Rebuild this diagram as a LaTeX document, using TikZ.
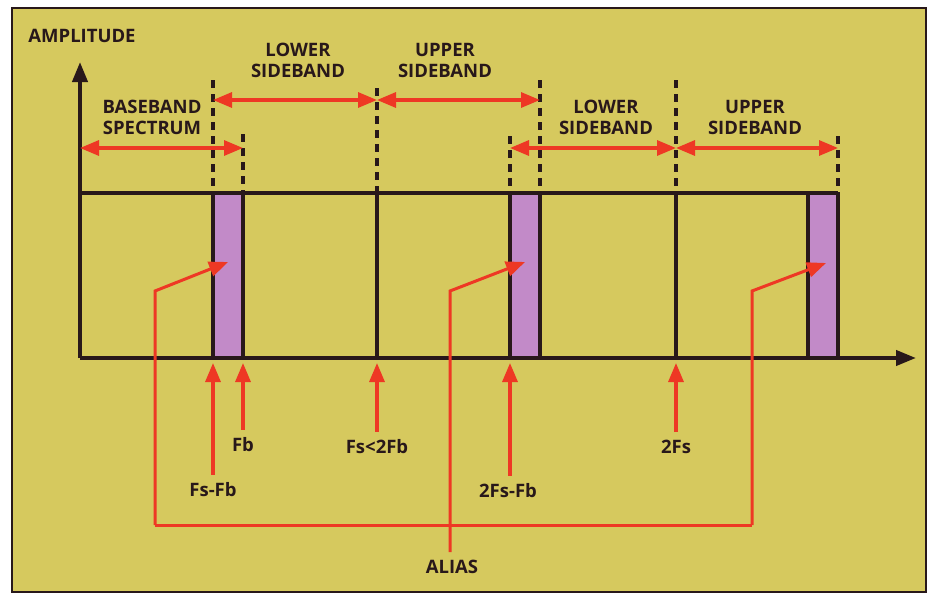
\documentclass[tikz,border=0pt]{standalone}
\usepackage{fontspec}
\setmainfont{Open Sans}
\usetikzlibrary{arrows.meta}

\definecolor{paper}{RGB}{214,201,94}
\definecolor{band}{RGB}{194,138,200}
\definecolor{alias}{RGB}{238,56,36}
\definecolor{ink}{RGB}{40,24,26}

\tikzset{
  lbl/.style={font=\bfseries\fontsize{18.5}{21}\selectfont, text=ink, align=center, inner sep=0pt},
  axis/.style={draw=ink, line width=4pt, -{Triangle[length=20pt,width=15pt]}},
  guide/.style={draw=ink, line width=3.5pt, dash pattern=on 8pt off 6pt},
  span/.style={draw=alias, line width=3.2pt, {Triangle[length=19pt,width=15pt]}-{Triangle[length=19pt,width=15pt]}},
  marker/.style={draw=alias, line width=3.2pt, -{Triangle[length=19pt,width=15pt]}},
  aliaslink/.style={draw=alias, line width=3pt, line join=miter},
}

\begin{document}
\begin{tikzpicture}[x=1pt, y=-1pt, line width=4pt]
    \useasboundingbox (0,0) rectangle (936,594);
    \fill[white] (0,0) rectangle (936,594);
    \draw[fill=paper, draw=ink, line width=1.2pt] (12,8) rectangle (926,592);

    % frequency positions on the axis
    \foreach \name/\x in {fsfb/213, fb/243, fs/377, afsfb/510, fsfbs/540, afs/676, bfsfb/808, afsfbs/838} {
      \coordinate (\name-lo) at (\x,358);
      \coordinate (\name-hi) at (\x,193);
    }
    \coordinate (origin) at (80,358);
    \coordinate (ytip) at (80,62);
    \coordinate (xtip) at (916,358);
    \coordinate (level) at (80,193);

    % sidebands
    \fill[band] (fsfb-lo) rectangle (fb-hi);
    \fill[band] (afsfb-lo) rectangle (fsfbs-hi);
    \fill[band] (bfsfb-lo) rectangle (afsfbs-hi);

    \draw[ink] (level) -- (afsfbs-hi);
    \foreach \name in {fsfb, fb, fs, afsfb, fsfbs, afs, bfsfb, afsfbs}
      \draw[ink] (\name-lo) -- (\name-hi);
    \draw[axis] (origin) -- (ytip);
    \draw[axis] (origin) -- (xtip);

    % dotted guides
    \foreach \name/\x/\t in {fsfb/213/80, fb/243/134, fs/377/88, afsfb/510/136, fsfbs/540/80, afs/676/80, afsfbs/838/136} {
      \coordinate (\name-top) at (\x,\t);
      \draw[guide] (\name-top) -- (\name-hi);
    }

    % band spans
    \draw[span] (213,100) -- (377,100);
    \draw[span] (377,100) -- (540,100);
    \draw[span] (80,148) -- (243,148);
    \draw[span] (510,148) -- (676,148);
    \draw[span] (676,148) -- (838,148);

    \node[lbl] (ampl) at (82,36) {AMPLITUDE};
    \node[lbl] (lsb1) at (298,60) {LOWER\\SIDEBAND};
    \node[lbl] (usb1) at (445,60) {UPPER\\SIDEBAND};
    \node[lbl] (base) at (152,117) {BASEBAND\\SPECTRUM};
    \node[lbl] (lsb2) at (606,117) {LOWER\\SIDEBAND};
    \node[lbl] (usb2) at (755,117) {UPPER\\SIDEBAND};

    % frequency labels
    \node[lbl] (fsfbt) at (213,490) {Fs-Fb};
    \node[lbl] (fbt) at (243,445) {Fb};
    \node[lbl] (fst) at (377,447) {Fs<2Fb};
    \node[lbl] (afsfbt) at (508,491) {2Fs-Fb};
    \node[lbl] (afst) at (676,447) {2Fs};
    \node[lbl] (ali) at (452,567) {ALIAS};

    \draw[marker, shorten <=6pt, shorten >=5pt] (fsfbt) -- (fsfb-lo);
    \draw[marker, shorten <=6pt, shorten >=5pt] (fbt) -- (fb-lo);
    \draw[marker, shorten <=6pt, shorten >=5pt] (fst) -- (fs-lo);
    \draw[marker, shorten <=6pt, shorten >=5pt] (afsfbt.north -| afsfb-lo) -- (afsfb-lo);
    \draw[marker, shorten <=6pt, shorten >=5pt] (afst) -- (afs-lo);

    % alias paths
    \coordinate (bus-l) at (155,525);
    \coordinate (bus-r) at (752,525);
    \coordinate (knee1) at (155,291);
    \coordinate (knee2) at (450,291);
    \coordinate (knee3) at (752,291);
    \coordinate (hit1) at (228,262);
    \coordinate (hit2) at (525,262);
    \coordinate (hit3) at (826,263);
    \draw[aliaslink] (bus-l) -- (bus-r);
    \draw[aliaslink, -{Triangle[length=19pt,width=15pt]}] (bus-l) -- (knee1) -- (hit1);
    \draw[aliaslink, -{Triangle[length=19pt,width=15pt]}, shorten <=6pt] (ali.north -| knee2) -- (knee2) -- (hit2);
    \draw[aliaslink, -{Triangle[length=19pt,width=15pt]}] (bus-r) -- (knee3) -- (hit3);
  \end{tikzpicture}
\end{document}
